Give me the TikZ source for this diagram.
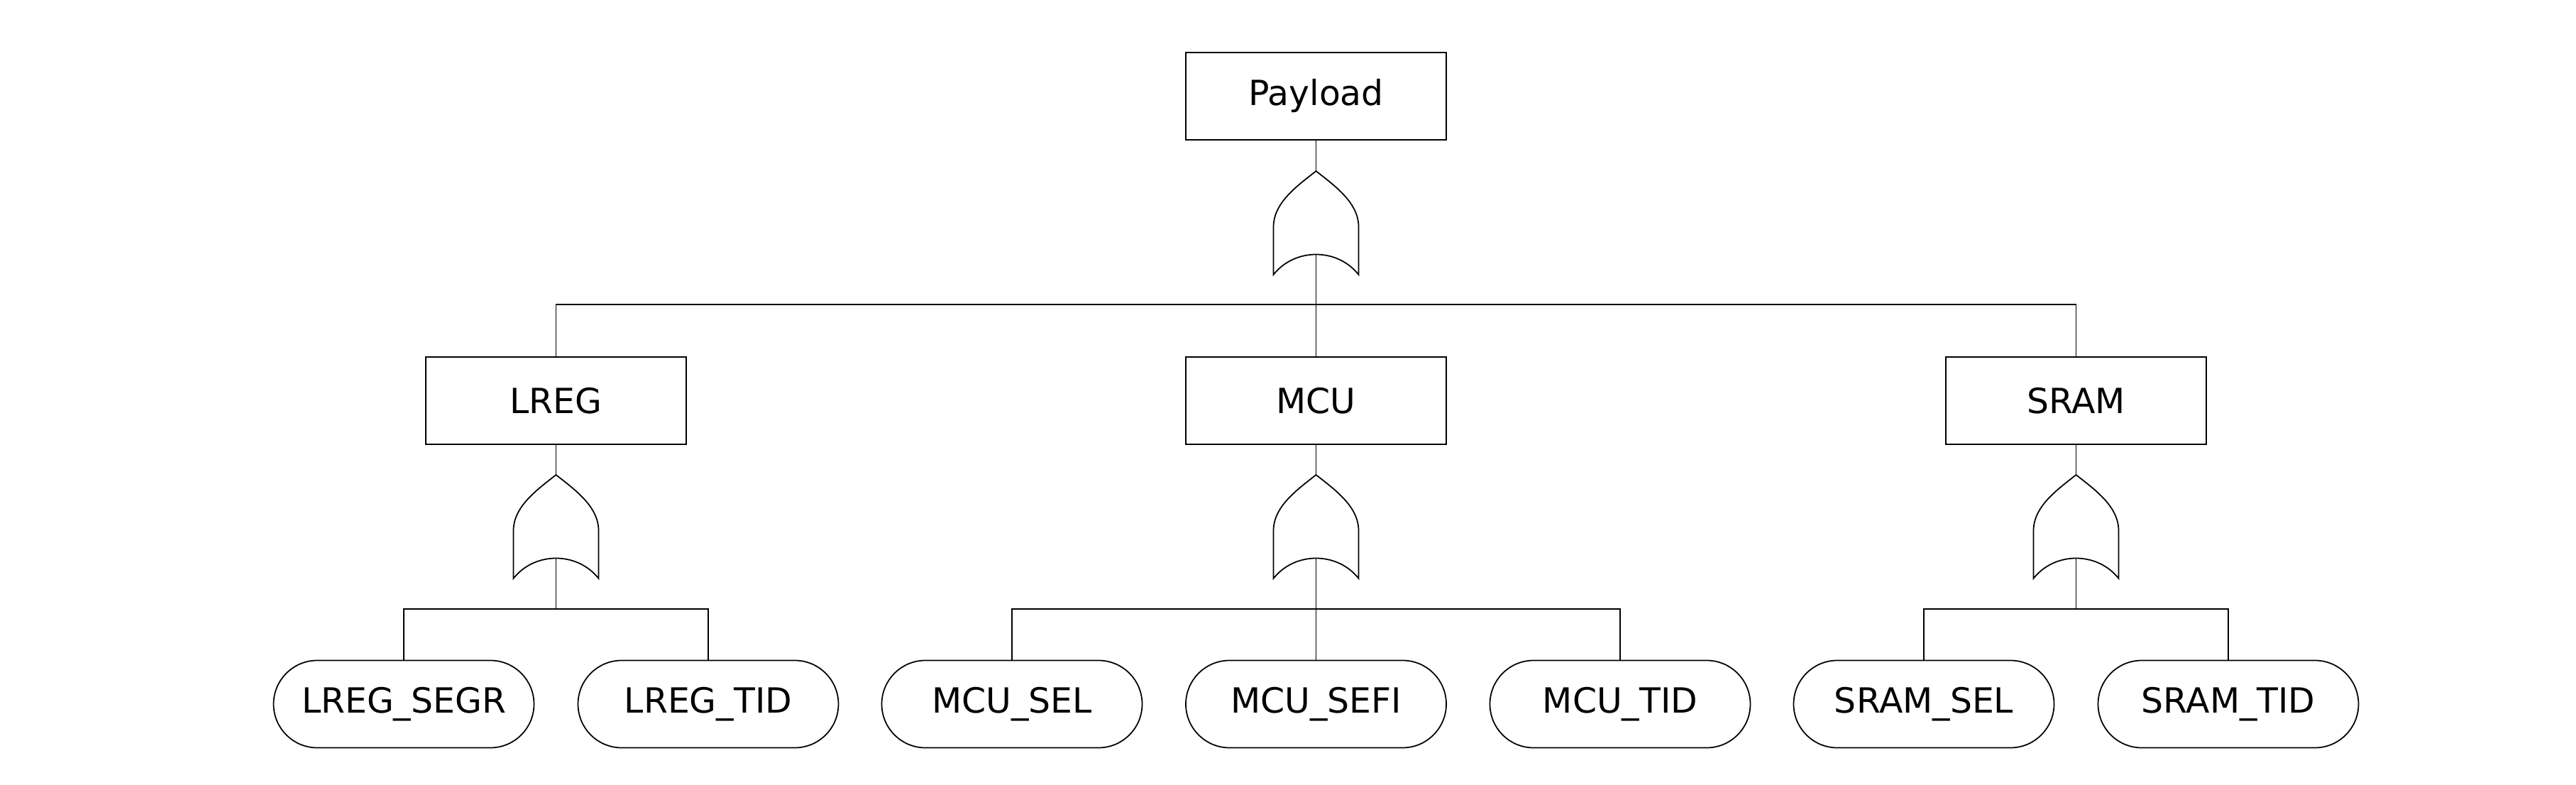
\documentclass[tikz,border=0pt]{standalone}
\usepackage{fontspec}
\setmainfont{DejaVu Sans}
\usetikzlibrary{shapes.misc}
\tikzset{
  orgate/.pic={
    \draw (0,0) .. controls (-0.28,-0.22) and (-0.60,-0.45) .. (-0.60,-0.79)
      -- (-0.60,-1.46) .. controls (-0.30,-1.08) and (0.30,-1.08) .. (0.60,-1.46)
      -- (0.60,-0.79) .. controls (0.60,-0.45) and (0.28,-0.22) .. (0,0) -- cycle;
    \coordinate (-in) at (0,0);
    \coordinate (-out) at (0,-1.17);
  }
}

\begin{document}
\begin{tikzpicture}[line width=0.5pt,
  font=\fontsize{13.9}{17}\selectfont,
  box/.style={draw, rectangle, minimum width=3.67cm, minimum height=1.23cm, inner sep=0pt},
  leaf/.style={draw, rounded rectangle, minimum width=3.67cm, minimum height=1.23cm, inner sep=0pt}]
\useasboundingbox (0,0) rectangle (36.30,-11.05);
% top event
\node[box] (payload) at (18.545,-1.355) {Payload};
\pic (gtop) at (18.545,-2.41) {orgate};
% subsystems
\node[box] (lreg) at (7.835,-5.645) {LREG};
\node[box] (mcu) at (18.545,-5.645) {MCU};
\node[box] (sram) at (29.255,-5.645) {SRAM};
\pic (glreg) at (7.835,-6.69) {orgate};
\pic (gmcu) at (18.545,-6.69) {orgate};
\pic (gsram) at (29.255,-6.69) {orgate};
% basic events
\node[leaf] (lregsegr) at (5.69,-9.92) {LREG\_SEGR};
\node[leaf] (lregtid) at (9.98,-9.92) {LREG\_TID};
\node[leaf] (mcusel) at (14.26,-9.92) {MCU\_SEL};
\node[leaf] (mcusefi) at (18.545,-9.92) {MCU\_SEFI};
\node[leaf] (mcutid) at (22.83,-9.92) {MCU\_TID};
\node[leaf] (sramsel) at (27.11,-9.92) {SRAM\_SEL};
\node[leaf] (sramtid) at (31.40,-9.92) {SRAM\_TID};
% connections
\draw (payload.south) -- (gtop-in);
\foreach \c in {lreg,mcu,sram}
  \draw (gtop-out) -- ++(0,-0.71) -| (\c.north);
\draw (lreg.south) -- (glreg-in);
\draw (mcu.south) -- (gmcu-in);
\draw (sram.south) -- (gsram-in);
\foreach \c in {lregsegr,lregtid}
  \draw (glreg-out) -- ++(0,-0.72) -| (\c.north);
\foreach \c in {mcusel,mcusefi,mcutid}
  \draw (gmcu-out) -- ++(0,-0.72) -| (\c.north);
\foreach \c in {sramsel,sramtid}
  \draw (gsram-out) -- ++(0,-0.72) -| (\c.north);
\end{tikzpicture}
\end{document}
